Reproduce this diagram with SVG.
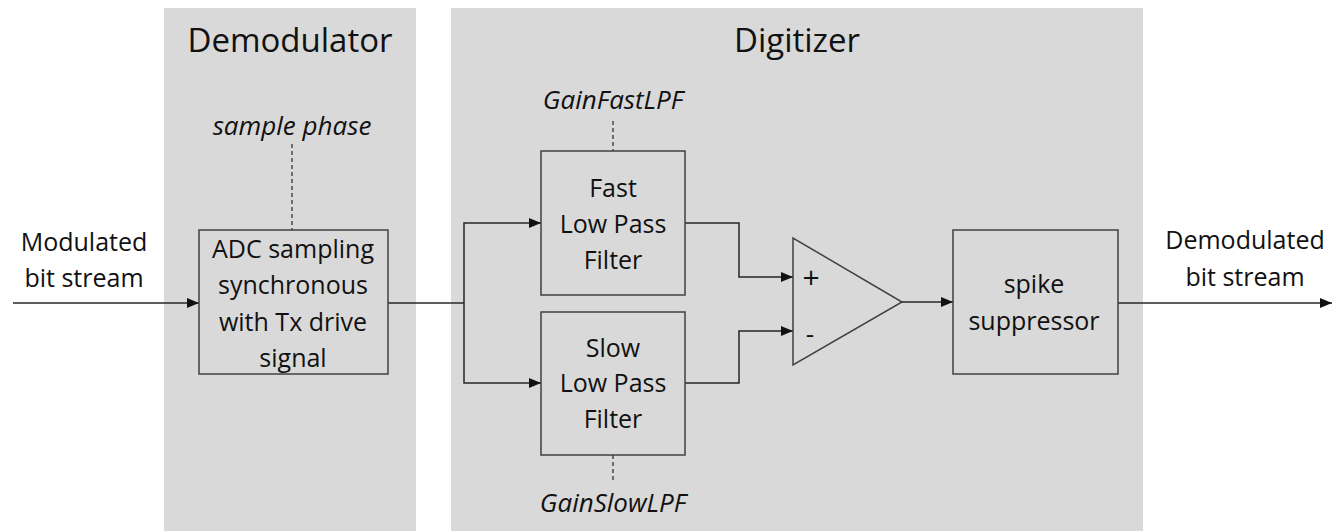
<svg xmlns="http://www.w3.org/2000/svg" width="1332" height="531" viewBox="0 0 1332 531">
<defs>
<style>
.panel{fill:#d9d9d9}
.box{fill:#d9d9d9;stroke:#404040;stroke-width:1.5}
.ln{fill:none;stroke:#262626;stroke-width:1.5}
.dash{fill:none;stroke:#262626;stroke-width:1.2;stroke-dasharray:4,3}
text{font-family:"Open Sans","Liberation Sans",sans-serif;fill:#111;text-anchor:middle}
.t{font-size:25px}
.h{font-size:33px}
.i{font-size:26px;font-style:italic}
</style>
<marker id="ah" markerWidth="12" markerHeight="10" refX="12" refY="5" orient="auto" markerUnits="userSpaceOnUse">
<path d="M0,0 L12,5 L0,10 Z" fill="#111"/>
</marker>
</defs>
<rect width="1332" height="531" fill="#fff"/>
<g id="demodulator-panel">
<rect class="panel" x="164" y="8" width="252" height="523"/>
<text class="h" x="290" y="52">Demodulator</text>
</g>
<g id="digitizer-panel">
<rect class="panel" x="451" y="8" width="692" height="523"/>
<text class="h" x="797" y="52">Digitizer</text>
</g>
<g id="connectors">
<line class="ln" x1="13" y1="303" x2="199" y2="303" marker-end="url(#ah)"/>
<polyline class="ln" points="388,303 464,303"/>
<polyline class="ln" points="464,303 464,223 541,223" marker-end="url(#ah)"/>
<polyline class="ln" points="464,303 464,383 541,383" marker-end="url(#ah)"/>
<polyline class="ln" points="685,223 739,223 739,277 793,277" marker-end="url(#ah)"/>
<polyline class="ln" points="685,383 739,383 739,331 793,331" marker-end="url(#ah)"/>
<line class="ln" x1="902" y1="302" x2="953" y2="302" marker-end="url(#ah)"/>
<line class="ln" x1="1118" y1="303" x2="1332" y2="303" marker-end="url(#ah)"/>
<line class="dash" x1="292" y1="144" x2="292" y2="230"/>
<line class="dash" x1="613" y1="121" x2="613" y2="151"/>
<line class="dash" x1="613" y1="455" x2="613" y2="483"/>
</g>
<g id="input-label">
<text class="t" x="84" y="251">Modulated</text>
<text class="t" x="84" y="287">bit stream</text>
</g>
<g id="sample-phase">
<text class="i" x="292" y="135">sample phase</text>
</g>
<g id="adc">
<rect class="box" x="199" y="230" width="189" height="144"/>
<text class="t" x="293" y="258">ADC sampling</text>
<text class="t" x="293" y="294">synchronous</text>
<text class="t" x="293" y="331">with Tx drive</text>
<text class="t" x="293" y="367">signal</text>
</g>
<g id="gain-fast">
<text class="i" x="613" y="109">GainFastLPF</text>
</g>
<g id="fast-lpf">
<rect class="box" x="541" y="151" width="144" height="144"/>
<text class="t" x="613" y="197">Fast</text>
<text class="t" x="613" y="233">Low Pass</text>
<text class="t" x="613" y="269">Filter</text>
</g>
<g id="slow-lpf">
<rect class="box" x="541" y="312" width="144" height="143"/>
<text class="t" x="613" y="357">Slow</text>
<text class="t" x="613" y="392">Low Pass</text>
<text class="t" x="613" y="428">Filter</text>
</g>
<g id="gain-slow">
<text class="i" x="613" y="512">GainSlowLPF</text>
</g>
<g id="comparator">
<polygon class="box" points="793,238 793,365 902,302"/>
<text x="811" y="288" style="font-size:30px">+</text>
<text x="810" y="343" style="font-size:26px">-</text>
</g>
<g id="spike">
<rect class="box" x="953" y="230" width="165" height="144"/>
<text class="t" x="1034" y="293">spike</text>
<text class="t" x="1034" y="330">suppressor</text>
</g>
<g id="output-label">
<text class="t" x="1245" y="249">Demodulated</text>
<text class="t" x="1245" y="286">bit stream</text>
</g>
</svg>
